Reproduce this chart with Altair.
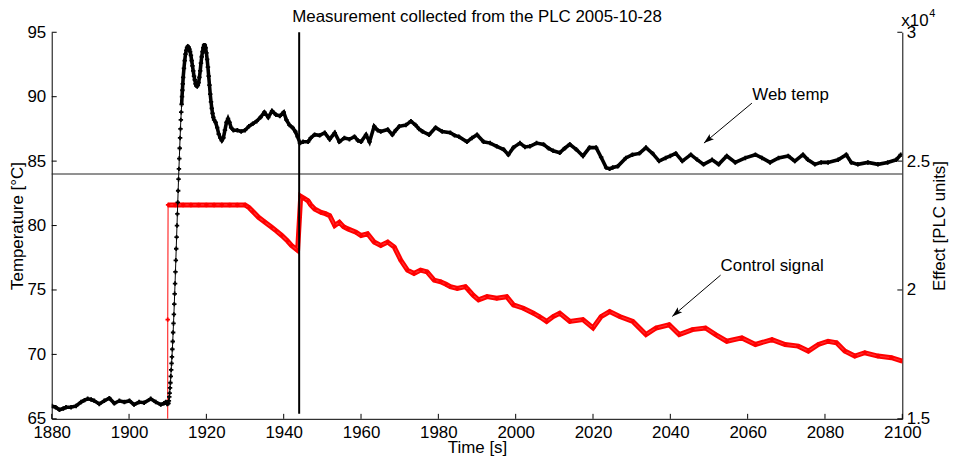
import altair as alt
import pandas as pd

FONT = "Liberation Sans"
W, H = 856, 389

TITLE = "Measurement collected from the PLC 2005-10-28"
X_TITLE = "Time [s]"
YL_TITLE = "Temperature [°C]"
YR_TITLE = "Effect [PLC units]"

x_ticks = [1880, 1900, 1920, 1940, 1960, 1980, 2000, 2020, 2040, 2060, 2080, 2100]
yl_ticks = [65, 70, 75, 80, 85, 90, 95]
yr_ticks = [15000, 20000, 25000, 30000]

# Web temperature [°C]
temp_t = [
    1880, 1881, 1882, 1883, 1883.7, 1885, 1886.3, 1887.6, 1888.5, 1889.3, 1890.2, 1891,
    1892.3, 1893.6, 1894.9, 1896.2, 1897.5, 1898.8, 1900.1, 1901.3, 1902.6, 1903.9,
    1905.6, 1906.9, 1908.2, 1909.0, 1909.5, 1909.9,
    1910.2, 1910.3, 1910.4, 1910.5, 1910.6, 1910.7, 1910.8, 1910.9, 1911.0, 1911.1,
    1911.2, 1911.3, 1911.4, 1911.5, 1911.6, 1911.7, 1911.8, 1911.9, 1912.0, 1912.1,
    1912.2, 1912.3, 1912.4, 1912.5, 1912.6, 1912.7, 1912.8, 1912.9, 1913.0, 1913.1,
    1913.2, 1913.3, 1913.4, 1913.5, 1913.6, 1913.7, 1913.8, 1913.9, 1914.0, 1914.2,
    1914.4, 1914.6, 1914.8, 1915.0, 1915.2, 1915.4, 1915.6, 1915.8, 1916.0, 1916.2,
    1916.4, 1916.6, 1916.8, 1917.0, 1917.2, 1917.4, 1917.6, 1917.8, 1918.0, 1918.2,
    1918.4, 1918.6, 1918.8, 1919.0, 1919.2, 1919.4, 1919.6, 1919.8, 1920.0, 1920.2,
    1920.4, 1920.6, 1920.8, 1921.0, 1921.2, 1921.4, 1921.6, 1921.8, 1922.0,
    1922.4, 1922.8, 1923.2, 1923.6, 1924.0, 1924.4, 1924.8, 1925.2, 1925.6, 1926.0,
    1926.4, 1927, 1928, 1929, 1930, 1931, 1932, 1933, 1934, 1935, 1936, 1937, 1938,
    1939, 1940, 1940.7, 1941.5, 1942.3, 1943, 1943.6, 1944.2, 1945, 1946.3, 1947,
    1948, 1949.3, 1950.6, 1951.9, 1953.2, 1954.4, 1955.7, 1957, 1958.3, 1959.2, 1960,
    1961.3, 1962.2, 1963.4, 1964.3, 1965.1, 1966.9, 1968.1, 1969, 1969.9, 1971.6,
    1972.9, 1974.1, 1975, 1975.9, 1977.6, 1979.3, 1981, 1983.1, 1984.2, 1985.3,
    1987.4, 1988.7, 1990, 1991.7, 1993.4, 1995.1, 1996.9, 1998.1, 1999.4, 2001.1,
    2002.4, 2003.7, 2005.4, 2007.2, 2008.5, 2009.7, 2011.4, 2012.7, 2014, 2015.7,
    2017.4, 2019.1, 2020.8, 2022.1, 2023.4, 2024.3, 2025.1, 2026.4, 2028.5, 2030.2,
    2032, 2033.7, 2035.4, 2037.1, 2038.8, 2040, 2041.4, 2043.1, 2045.3, 2047, 2048.6,
    2050.8, 2052.5, 2054.6, 2056.8, 2059.4, 2062, 2063.7, 2065.8, 2068, 2070.5,
    2072.2, 2074.3, 2075.6, 2077.4, 2079, 2080.8, 2083.4, 2085.5, 2086.8, 2088.5,
    2091.1, 2093.7, 2096.2, 2098.4, 2099.6,
]
temp_v = [
    66.0, 65.9, 65.7, 65.8, 65.9, 65.9, 66.0, 66.3, 66.45, 66.55, 66.5, 66.4,
    66.15, 66.4, 66.6, 66.2, 66.4, 66.3, 66.4, 66.1, 66.3, 66.25,
    66.55, 66.3, 66.1, 66.2, 66.3, 66.15,
    66.2, 66.4, 66.7, 67.0, 67.4, 67.8, 68.3, 68.8, 69.3, 69.8,
    70.4, 71.0, 71.7, 72.4, 73.1, 73.9, 74.7, 75.5, 76.4, 77.3,
    78.2, 79.1, 80.0, 80.9, 81.8, 82.7, 83.6, 84.4, 85.2, 86.0,
    86.8, 87.5, 88.2, 88.8, 89.4, 90.0, 90.5, 91.0, 91.5, 92.2,
    92.8, 93.3, 93.6, 93.8, 93.9, 93.85, 93.7, 93.5, 93.2, 92.8,
    92.4, 92.0, 91.6, 91.3, 91.0, 90.85, 90.8, 90.9, 91.1, 91.5,
    92.0, 92.6, 93.1, 93.5, 93.8, 94.0, 94.0, 93.8, 93.4, 92.9,
    92.3, 91.6, 90.9, 90.2, 89.6, 89.1, 88.7, 88.4, 88.2,
    88.0, 87.6, 87.1, 86.8, 86.6, 86.8, 87.4, 88.0, 88.3, 88.0,
    87.6, 87.4, 87.4, 87.3, 87.4, 87.7, 87.9, 88.1, 88.4, 88.8, 88.4, 88.9, 88.6,
    88.5, 88.8, 88.2, 87.8, 87.6, 87.3, 86.9, 86.4, 86.5, 86.5, 86.8,
    87.05, 87.0, 87.2, 86.7, 87.2, 86.5, 86.8, 86.7, 86.9, 86.6, 86.5,
    87.05, 86.5, 87.7, 87.4, 87.3, 87.45, 87.05, 87.4, 87.7, 87.8,
    88.1, 87.8, 87.5, 87.3, 87.05, 87.6, 87.3, 87.2, 87.0, 86.9,
    86.5, 86.8, 87.05, 86.5, 86.4, 86.15, 85.9, 85.5, 86.05, 86.4,
    86.1, 86.15, 86.4, 86.3, 86.0, 85.8, 85.65, 86.0, 86.3, 85.9,
    85.4, 86.05, 86.05, 85.3, 84.5, 84.4, 84.5, 84.6, 85.25, 85.5,
    85.6, 86.05, 85.6, 85.0, 85.25, 85.4, 85.6, 85.0, 85.5, 85.1, 84.75,
    85.1, 84.75, 85.4, 84.9, 85.25, 85.5, 85.25, 84.9, 85.25, 85.4,
    85.0, 85.5, 85.1, 84.75, 84.9, 84.9, 85.1, 85.5, 84.9, 84.75,
    84.9, 84.75, 84.9, 85.1, 85.5,
]

# Control signal [PLC units]
ctrl_t = [
    1880, 1909.95, 1910.0, 1910.1, 1912, 1914, 1916, 1918, 1920, 1922, 1924, 1926,
    1928, 1930, 1931, 1932, 1933.5, 1935, 1936.9, 1938, 1939.5, 1941, 1942, 1943.6,
    1944.4, 1945.3, 1946.3, 1947, 1948, 1949.7, 1950.8, 1951.9, 1953.2, 1954.4,
    1955.5, 1956.6, 1958.7, 1960, 1961.7, 1963.4, 1965.1, 1966.9, 1968.6, 1970.3,
    1972, 1973.7, 1975.4, 1977.1, 1978.9, 1980.6, 1982, 1983.1, 1984.9, 1987,
    1987.8, 1989, 1990.4, 1992.6, 1995.1, 1997.7, 1999.4, 2002, 2004.6, 2006.3,
    2008, 2009.7, 2011.4, 2014, 2017.4, 2020, 2022.1, 2024.3, 2026.9, 2030.3,
    2033.7, 2036.3, 2039.7, 2042.3, 2045.7, 2049.1, 2051.7, 2054.6, 2058.5, 2062,
    2066.3, 2069.7, 2073.1, 2075.7, 2078.3, 2080.8, 2083, 2085.1, 2087.7, 2090.3,
    2093.7, 2097.2, 2100,
]
ctrl_v = [
    0, 0, 18850, 23300, 23300, 23300, 23300, 23300, 23300, 23300, 23300, 23300,
    23300, 23300, 23200, 23050, 22820, 22650, 22435, 22300, 22115, 21900, 21730, 21540,
    23640, 23560, 23460, 23300, 23140, 23010, 22960, 22885, 22500, 22630,
    22450, 22370, 22240, 22115, 22180, 21860, 21730, 21860, 21665, 21150,
    20770, 20640, 20770, 20700, 20385, 20320, 20220, 20130, 20060, 20130,
    20000, 19800, 19615, 19740, 19680, 19740, 19420, 19290, 19100, 18950,
    18780, 18970, 19100, 18780, 18850, 18530, 18970, 19165, 18970, 18780,
    18270, 18525, 18650, 18270, 18460, 18525, 18270, 18010, 18140, 17885,
    18075, 17885, 17820, 17630, 17885, 18010, 17950, 17630, 17435, 17565,
    17435, 17370, 17240,
]

ref_temp = [84.0]
ref_time = [1944.0]
ref_time_lo = [65.4]
ref_time_hi = [95.0]

annot_text = ["Web temp", "Control signal"]
annot_tx = [2061.2, 2053.0]
annot_ty = [90.15, 76.85]
arrow_x0 = [2061.1, 2053.0]
arrow_y0 = [89.5, 76.15]
arrow_x1 = [2048.7, 2040.5]
arrow_y1 = [86.4, 72.95]
arrow_angle = [230.4, 229.2]

temp_df = pd.DataFrame({"t": temp_t, "temp": temp_v})
temp_df["seg"] = ["a" if t <= 1910.2 else ("r" if t < 1913.6 else "b") for t in temp_t]
ctrl_df = pd.DataFrame({"t": ctrl_t, "effect": ctrl_v})
ctrl_df["seg"] = ["pre" if t < 1910.05 else "main" for t in ctrl_t]
annot_df = pd.DataFrame({"label": annot_text, "tx": annot_tx, "ty": annot_ty,
                         "x0": arrow_x0, "y0": arrow_y0, "x1": arrow_x1, "y1": arrow_y1,
                         "ang": arrow_angle})
hline_df = pd.DataFrame({"y": ref_temp})
vline_df = pd.DataFrame({"t": ref_time, "lo": ref_time_lo, "hi": ref_time_hi})

xs = alt.Scale(domain=[1880, 2100], nice=False, zero=False)
yls = alt.Scale(domain=[65, 95], nice=False, zero=False)
yrs = alt.Scale(domain=[15000, 30000], nice=False, zero=False)

x_axis = alt.Axis(values=x_ticks, format="d", title=X_TITLE, labelPadding=6,
                  labelFlush=False, labelOverlap=False, titleX=W / 2, titleY=34,
                  titleBaseline="alphabetic", titleAlign="center")
yl_axis = alt.Axis(values=yl_ticks, title=YL_TITLE, orient="left", labelPadding=6,
                   labelFlush=False, labelOverlap=False, titleAngle=270, titleX=-29,
                   titleY=H / 2, titleAlign="center", titleBaseline="alphabetic")
yr_axis = alt.Axis(values=yr_ticks, title=YR_TITLE, orient="right", labelPadding=4,
                   labelFlush=False, labelOverlap=False, labelExpr="'' + (datum.value / 10000)",
                   titleAngle=270, titleX=42, titleY=H / 2, titleAlign="center",
                   titleBaseline="alphabetic")


def X(field):
    return alt.X(field, scale=xs, axis=x_axis)


def YL(field, axis=None):
    return alt.Y(field, scale=yls, axis=axis)


def YR(field, axis=None):
    return alt.Y(field, scale=yrs, axis=axis)


temp_base = alt.Chart(temp_df)
ctrl_base = alt.Chart(ctrl_df)

temp_thick = temp_base.mark_line(color="black", strokeWidth=3.6, clip=True).encode(
    x=X("t:Q"), y=YL("temp:Q", yl_axis), detail="seg:N"
).transform_filter("datum.seg != 'r'")
temp_thin = temp_base.mark_line(color="black", strokeWidth=1, clip=True).encode(
    x=X("t:Q"), y=YL("temp:Q"))
temp_pts = temp_base.mark_point(shape="cross", filled=True, size=20, color="black",
                                opacity=1, clip=True).encode(x=X("t:Q"), y=YL("temp:Q"))

ctrl_thick = ctrl_base.mark_line(color="#ff0000", strokeWidth=5, clip=True).encode(
    x=X("t:Q"), y=YR("effect:Q", yr_axis)
).transform_filter("datum.seg == 'main'")
ctrl_thin = ctrl_base.mark_line(color="#ff3030", strokeWidth=1.2, clip=True).encode(
    x=X("t:Q"), y=YR("effect:Q"))
ctrl_pts = ctrl_base.mark_point(shape="cross", filled=True, size=20, color="#ff0000",
                                opacity=1, clip=True).encode(x=X("t:Q"), y=YR("effect:Q"))

hline = alt.Chart(hline_df).mark_rule(color="#222222", strokeWidth=1).encode(y=YL("y:Q"))
vline = alt.Chart(vline_df).mark_rule(color="black", strokeWidth=2).encode(
    x=X("t:Q"), y=YL("lo:Q"), y2="hi:Q")

ann_text = alt.Chart(annot_df).mark_text(align="left", baseline="middle", font=FONT,
                                         fontSize=17, color="black").encode(
    x=X("tx:Q"), y=YL("ty:Q"), text="label:N")
ann_line = alt.Chart(annot_df).mark_rule(color="black", strokeWidth=1).encode(
    x=X("x0:Q"), y=YL("y0:Q"), x2="x1:Q", y2="y1:Q")
ann_head = alt.Chart(annot_df).mark_point(
    shape="M0,0L-0.33,1L0,0.78L0.33,1Z", filled=True, size=420, color="black", opacity=1
).encode(x=X("x1:Q"), y=YL("y1:Q"), angle=alt.Angle("ang:Q", scale=None))

# inward tick marks (MATLAB style)
tick_l = alt.Chart(pd.DataFrame({"v": yl_ticks})).mark_rule(color="black").encode(
    y=YL("v:Q"), x=alt.value(0), x2=alt.value(5))
tick_r = alt.Chart(pd.DataFrame({"v": yr_ticks})).mark_rule(color="black").encode(
    y=YR("v:Q"), x=alt.value(W - 5), x2=alt.value(W))
tick_b = alt.Chart(pd.DataFrame({"v": x_ticks})).mark_rule(color="black").encode(
    x=X("v:Q"), y=alt.value(H - 5), y2=alt.value(H))

title_txt = alt.Chart(pd.DataFrame({"label": [TITLE]})).mark_text(
    align="center", baseline="alphabetic", font=FONT, fontSize=17, color="black"
).encode(text="label:N", x=alt.value(W / 2), y=alt.value(-10.3))
exp_base = alt.Chart(pd.DataFrame({"label": ["x10"]})).mark_text(
    align="left", baseline="alphabetic", font=FONT, fontSize=17, color="black"
).encode(text="label:N", x=alt.value(855), y=alt.value(-6))
exp_pow = alt.Chart(pd.DataFrame({"label": ["4"]})).mark_text(
    align="left", baseline="alphabetic", font=FONT, fontSize=11, color="black"
).encode(text="label:N", x=alt.value(883), y=alt.value(-15))

chart = alt.layer(
    temp_thick, ctrl_thick, ctrl_thin, ctrl_pts, hline, temp_thin, temp_pts, vline,
    ann_line, ann_head, ann_text, tick_l, tick_r, tick_b, title_txt, exp_base, exp_pow
).resolve_scale(y="independent").properties(
    width=W, height=H,
    autosize=alt.AutoSizeParams(type="none"),
    padding={"left": 44, "top": 23, "right": 48, "bottom": 38},
).configure_view(stroke=None).configure_axis(
    labelFont=FONT, titleFont=FONT, labelFontSize=17, titleFontSize=17,
    titleFontWeight="normal", labelColor="black", titleColor="black",
    domainColor="black", domainWidth=1, grid=False, ticks=False,
)

chart.save("out.html", embed_options={"renderer": "svg", "actions": False})
